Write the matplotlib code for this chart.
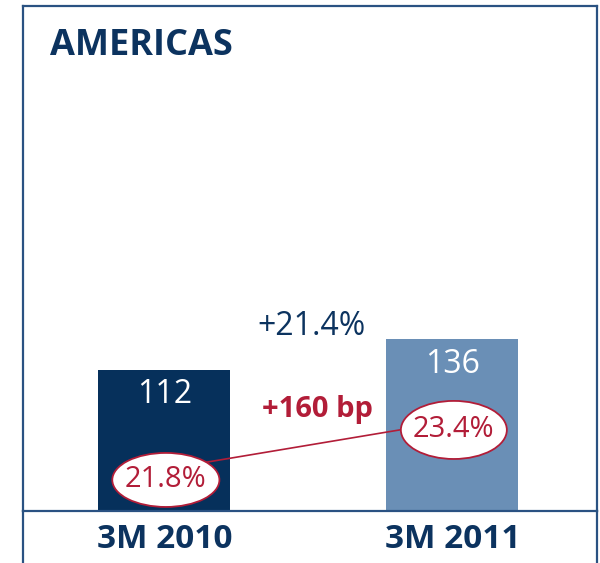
import matplotlib
matplotlib.use("Agg")
import matplotlib.pyplot as plt
from matplotlib.patches import Ellipse

categories = ["3M 2010", "3M 2011"]
values = [112, 136]
margins = ["21.8%", "23.4%"]
growth_label = "+21.4%"
margin_change_label = "+160 bp"
title = "AMERICAS"

NAVY = "#0c335f"
BAR_COLORS = ["#06305b", "#6a8fb6"]
RED = "#b21d38"
FRAME = "#2a5282"
FONT = "Open Sans"

fig = plt.figure(figsize=(6.0, 5.63), dpi=100)
ax = fig.add_axes([23/600, 52/563, 574/600, 505/563])
ax.set_xlim(-0.491, 1.502)
ax.set_ylim(0, 400)

x = list(range(len(categories)))
ax.bar(x, values, width=0.458, color=BAR_COLORS, zorder=2)

for xi, v in zip(x, values):
    ax.text(xi, v - 20, str(v), ha="center", va="center", color="white",
            fontsize=23, family=FONT, zorder=5)

# margin ellipses
ell_y = [24.6, 64.2]
ell_w = [0.372, 0.368]
ell_h = [42.8, 46.0]
ax.plot([x[0], x[1]], [ell_y[0] + 8.5, ell_y[1] + 7], color=RED, lw=1.2, zorder=3)
for xi, m, ey, ew, eh in zip(x, margins, ell_y, ell_w, ell_h):
    ax.add_patch(Ellipse((xi + 0.005, ey), ew, eh, facecolor="white",
                         edgecolor=RED, lw=1.3, zorder=4))
    ax.text(xi + 0.005, ey, m, ha="center", va="center", color=RED,
            fontsize=21, family=FONT, zorder=5)

ax.text(0.512, 145.8, growth_label, ha="center", va="center", color=NAVY,
        fontsize=23, family=FONT)
ax.text(0.533, 80, margin_change_label, ha="center", va="center", color=RED,
        fontsize=21, family=FONT, fontweight="bold")

ax.text(27/574, (511-46)/505, title, transform=ax.transAxes, ha="left",
        va="center", color=NAVY, fontsize=26, family=FONT, fontweight="bold")

ax.set_xticks(x, categories)
ax.tick_params(axis="x", length=0, pad=9, labelsize=24, labelcolor=NAVY)
for lbl in ax.get_xticklabels():
    lbl.set_family(FONT)
    lbl.set_fontweight("bold")
ax.set_yticks([])

for s in ["top", "left", "right", "bottom"]:
    ax.spines[s].set_color(FRAME)
    ax.spines[s].set_linewidth(1.6)
# extend side lines below baseline
ext = -52/505
ax.plot([0, 0], [0, ext], transform=ax.transAxes, color=FRAME, lw=1.6, clip_on=False)
ax.plot([1, 1], [0, ext], transform=ax.transAxes, color=FRAME, lw=1.6, clip_on=False)

fig.savefig("out.png", dpi=100, facecolor="white")
